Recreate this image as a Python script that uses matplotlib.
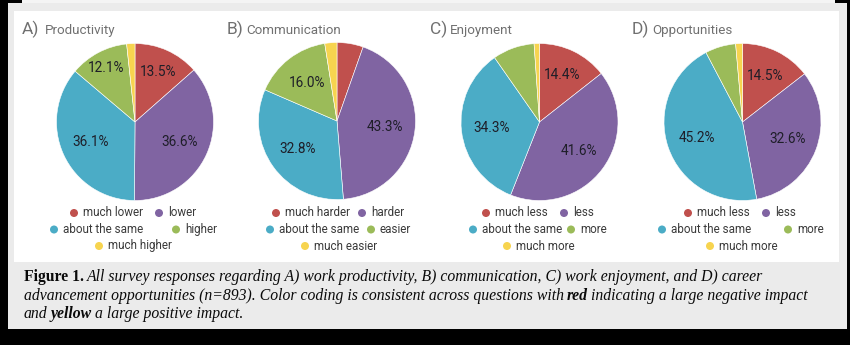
import matplotlib
matplotlib.use("Agg")
import matplotlib.pyplot as plt
from matplotlib.patches import Rectangle, Circle
import numpy as np

# ---------------- data ----------------
panel_letters = ["A)", "B)", "C)", "D)"]
panel_titles = ["Productivity", "Communication", "Enjoyment", "Opportunities"]

cats_A = ["much lower", "lower", "about the same", "higher", "much higher"]
cats_B = ["much harder", "harder", "about the same", "easier", "much easier"]
cats_C = ["much less", "less", "about the same", "more", "much more"]
cats_D = ["much less", "less", "about the same", "more", "much more"]

vals_A = [13.5, 36.6, 36.1, 12.1, 1.7]
vals_B = [5.4, 43.3, 32.8, 16.0, 2.5]
vals_C = [14.4, 41.6, 34.3, 8.6, 1.1]
vals_D = [14.5, 32.6, 45.2, 6.3, 1.4]

colors = ["#c0504d", "#8064a2", "#4bacc6", "#9bbb59", "#f7d44f"]

# ---------------- layout ----------------
W, H = 850, 345
fig = plt.figure(figsize=(W / 100, H / 100), dpi=100, facecolor="black")
bg = fig.add_axes([0, 0, 1, 1])
bg.set_xlim(0, W)
bg.set_ylim(H, 0)
bg.axis("off")
bg.set_zorder(0)

bg.add_patch(Rectangle((8, 3), 839, 326, facecolor="#ebebeb", edgecolor="none"))
bg.add_patch(Rectangle((22, 0), 813, 3, facecolor="#f4f4f4", edgecolor="none"))
bg.add_patch(Rectangle((14, 11), 825, 251, facecolor="white", edgecolor="none"))

renderer = fig.canvas.get_renderer()

panels = [
    (cats_A, vals_A, 135.0, 122.0, 22, [(74, 159), (54, 176), (99,)]),
    (cats_B, vals_B, 337.0, 121.0, 227, [(276, 362), (270, 371), (305,)]),
    (cats_C, vals_C, 539.5, 122.0, 430, [(486, 564), (473, 571), (507,)]),
    (cats_D, vals_D, 742.5, 122.0, 632, [(688, 766), (662, 788), (710,)]),
]
R = 78.5
legend_rows_y = [213, 229.5, 246]
label_color = "#1e1e28"
legend_text_color = "#3a3a3a"
title_color = "#707070"

for i, (cats, vals, cx, cy, tx, leg_x) in enumerate(panels):
    # title
    t1 = bg.text(tx, 34, panel_letters[i], fontfamily="Roboto", fontsize=12.5,
                 color=title_color, va="baseline", ha="left")
    bb = t1.get_window_extent(renderer)
    bg.text(tx + bb.width + (6 if i == 0 else 3), 34, panel_titles[i], fontfamily="Roboto",
            fontsize=9.6, color=title_color, va="baseline", ha="left")

    # pie
    ax = fig.add_axes([(cx - R) / W, 1 - (cy + R) / H, 2 * R / W, 2 * R / H])
    ax.set_zorder(1)
    wedges, _ = ax.pie(vals, colors=colors, startangle=90, counterclock=False,
                       radius=1.0, wedgeprops=dict(edgecolor="white", linewidth=0.4))
    ax.set_xlim(-1, 1)
    ax.set_ylim(-1, 1)
    ax.set_aspect("equal")
    ax.axis("off")
    total = float(sum(vals))
    for w, v in zip(wedges, vals):
        pct = 100.0 * v / total
        if pct < 10:
            continue
        theta = np.deg2rad((w.theta1 + w.theta2) / 2.0)
        half = np.deg2rad((w.theta2 - w.theta1) / 2.0)
        d = max(0.62, 0.29 / np.sin(min(half, np.pi / 2)))
        ax.text(d * np.cos(theta), d * np.sin(theta), f"{pct:.1f}%",
                ha="center", va="center", fontfamily="Roboto", fontsize=9.8,
                color=label_color)

    # legend
    k = 0
    for row, xs in enumerate(leg_x):
        for mx in xs:
            bg.add_patch(Circle((mx, legend_rows_y[row]), 4.0, facecolor=colors[k],
                                edgecolor="none"))
            bg.text(mx + 9, legend_rows_y[row], cats[k], fontfamily="Roboto",
                    fontsize=8.4, color=legend_text_color, va="center", ha="left")
            k += 1

# ---------------- caption ----------------
cap_font = "Liberation Serif"
cap_size = 11.3

def width_of(s, st, wt):
    t = bg.text(0, 0, s, fontfamily=cap_font, fontsize=cap_size, style=st, weight=wt)
    w = t.get_window_extent(renderer).width
    t.remove()
    return w

caption_lines = [
    [("Figure 1.", "normal", "bold"),
     ("All survey responses regarding A) work productivity, B) communication, C) work enjoyment, and D) career", "italic", "normal")],
    [("advancement opportunities (n=893). Color coding is consistent across questions with", "italic", "normal"),
     ("red", "italic", "bold"),
     ("indicating a large negative impact", "italic", "normal")],
    [("and", "italic", "normal"),
     ("yellow", "italic", "bold"),
     ("a large positive impact.", "italic", "normal")],
]
baselines = [281, 300, 318.5]
for runs, yb in zip(caption_lines, baselines):
    x = 24
    for j, (s, st, wt) in enumerate(runs):
        bg.text(x, yb, s, fontfamily=cap_font, fontsize=cap_size, style=st,
                weight=wt, color="#0a0a0a", va="baseline", ha="left")
        x += width_of(s + " x", st, wt) - width_of("x", st, wt) - 1.0

fig.savefig("out.png", dpi=100, facecolor=fig.get_facecolor())
